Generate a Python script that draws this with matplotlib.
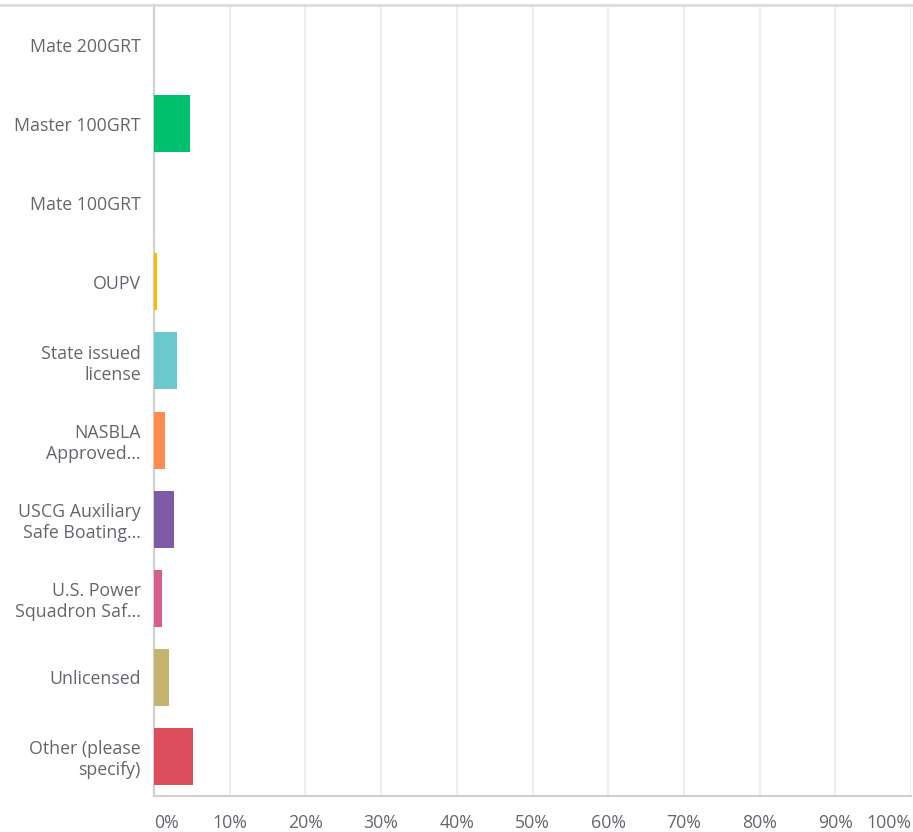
import matplotlib.pyplot as plt
from matplotlib.lines import Line2D

# answer choices, top to bottom
categories = [
    "Mate 200GRT",
    "Master 100GRT",
    "Mate 100GRT",
    "OUPV",
    "State issued\nlicense",
    "NASBLA\nApproved...",
    "USCG Auxiliary\nSafe Boating...",
    "U.S. Power\nSquadron Saf...",
    "Unlicensed",
    "Other (please\nspecify)",
]
# percent of responses
values = [0.0, 4.7, 0.0, 0.35, 3.0, 1.4, 2.6, 1.1, 2.0, 5.1]
colors = ["#507CB6", "#00BF6F", "#507CB6", "#F9BE00", "#6BC8CD",
          "#FF8B4F", "#7D5BA6", "#D25F90", "#C4B46E", "#DC4E5E"]
xticks = [0, 10, 20, 30, 40, 50, 60, 70, 80, 90, 100]
xticklabels = [f"{t}%" for t in xticks]

plt.rcParams['font.family'] = ['Open Sans', 'DejaVu Sans']
text_col = "#62676d"

fig = plt.figure(figsize=(9.13, 8.32), dpi=100)
ax = fig.add_axes([154 / 913, 36 / 832, 757 / 913, 791 / 832])

y = list(range(len(categories)))
ax.barh(y, values, height=0.72, color=colors, linewidth=0, zorder=3)
ax.set_ylim(len(categories) - 0.5, -0.5)
ax.set_xlim(0, 100)

ax.set_yticks(y)
ax.set_yticklabels(categories, fontsize=12.8, color=text_col, linespacing=1.2)
ax.set_xticks(xticks)
ax.set_xticklabels(xticklabels, fontsize=12.8, color=text_col)
ax.get_xticklabels()[0].set_ha("left")
ax.get_xticklabels()[-1].set_ha("right")
ax.tick_params(axis="both", length=0)
ax.tick_params(axis="x", pad=13)
ax.tick_params(axis="y", pad=9.5)

ax.grid(axis="x", color="#eeeeee", linewidth=1.5, zorder=0)
for s in ["top", "right"]:
    ax.spines[s].set_visible(False)
ax.spines["left"].set_color("#d0d0d0")
ax.spines["bottom"].set_color("#d0d0d0")
ax.spines["left"].set_linewidth(1.5)
ax.spines["bottom"].set_linewidth(1.5)

# thin frame line along the top of the screenshot
fig.add_artist(Line2D([0, 1], [1 - 5 / 832, 1 - 5 / 832], color="#dcdcdc", linewidth=2))

fig.savefig("out.png", dpi=100)
